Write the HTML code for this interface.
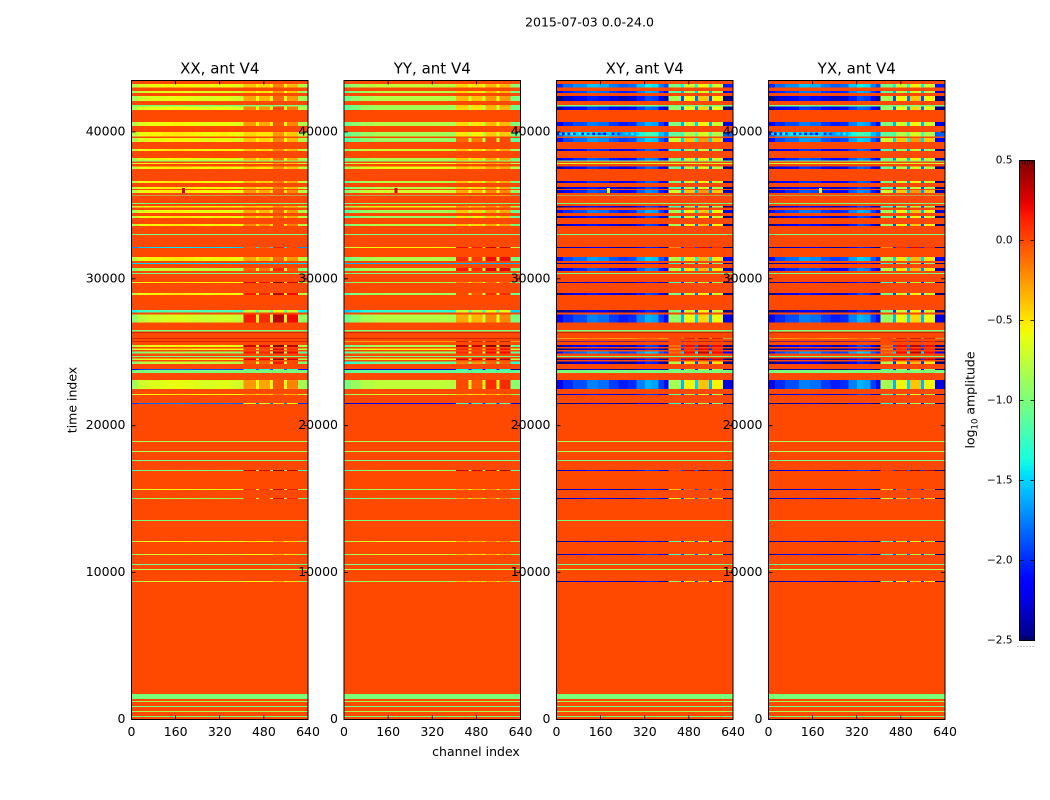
<!DOCTYPE html>
<html lang="en">
<head>
<meta charset="utf-8">
<title>2015-07-03 0.0-24.0</title>
<style>
  html, body { margin: 0; padding: 0; background: #ffffff; }
  #figure { display: block; width: 1050px; height: 800px; }
  text { font-family: "DejaVu Sans", "Liberation Sans", sans-serif; fill: #000000; }
</style>
</head>
<body>
<svg id="figure" xmlns="http://www.w3.org/2000/svg" width="1050" height="800" viewBox="0 0 1050 800">
  <rect x="0" y="0" width="1050" height="800" fill="#ffffff"/>
  <text x="589.5" y="26.5" font-size="12.5" text-anchor="middle">2015-07-03 0.0-24.0</text>
  <text x="476" y="756" font-size="12.5" text-anchor="middle">channel index</text>
  <text x="0" y="0" font-size="12.5" text-anchor="middle" transform="translate(76.5 400) rotate(-90)">time index</text>
  <text x="0" y="0" font-size="12.5" text-anchor="middle" transform="translate(974.5 400) rotate(-90)">log<tspan font-size="8.5" dy="3">10</tspan><tspan dy="-3"> amplitude</tspan></text>
  <g id="panels"></g>
  <g id="colorbar"></g>
</svg>
<script>
// Panel titles and tick labels
const panelTitles = ["XX, ant V4", "YY, ant V4", "XY, ant V4", "YX, ant V4"];
const xTicks = [0, 160, 320, 480, 640];
const yTicks = [0, 10000, 20000, 30000, 40000];
const colorbarTicks = [0.5, 0, -0.5, -1, -1.5, -2, -2.5];

// Channel columns and which level each column reads (0 = main, 1 = rfi)
const channelEdges = [0, 24, 60, 110, 150, 190, 225, 260, 290, 320, 345, 370, 390, 407, 452, 462, 503, 513, 553, 564, 604, 640];
const columnKind = [0, 0, 0, 0, 0, 0, 0, 0, 0, 0, 0, 0, 0, 1, 0, 1, 0, 1, 0, 1, 0];

// Per-column amplitude offset for each polarisation
const xxProfile = [-.2, -.05, 0, .03, .05, .03, 0, -.02, 0, .02, 0, -.03, -.05, -.05, .05, -.1, .05, .15, .05, 0, -.2];
const yyProfile = [-.25, -.15, -.05, 0, 0, 0, 0, 0, 0, 0, 0, -.02, -.02, 0, .1, -.05, .1, .1, .15, .1, -.2];
const xyProfile = [-.3, -.1, 0, .15, .1, -.05, -.15, -.1, .15, .3, .25, -.05, -.2, -.3, .3, 0, .4, .15, .3, 0, -.35];
const yxProfile = [-.3, -.1, 0, .15, .1, -.05, -.15, -.1, .15, .3, .25, -.05, -.2, -.3, .3, 0, .4, .15, .3, 0, -.35];

// Time ranges of the bands that differ from the background
const bandStart = [
  43030, 42650, 42100, 41740, 41490, 40400, 39700, 39310, 38700, 38040,
  38000, 37810, 37490, 36520, 36110, 35840, 35660, 35090, 34870, 34480,
  34140, 33590, 32980, 32100, 31210, 31010, 30530, 30330, 29710, 28900,
  27690, 27010, 26420, 26310, 25920, 25720, 25360, 25150, 24900, 24680,
  24470, 24200, 23790, 23590, 22500, 22090, 21480, 18890, 18210, 17600,
  16920, 15620, 15010, 13510, 12080, 11200, 10520, 10180, 9360, 1400,
  1190, 850, 510, 170];
const bandEnd = [
  43260, 42780, 42440, 41830, 41740, 40670, 40010, 39580, 38830, 38220,
  38040, 37880, 37630, 36660, 36250, 36040, 35720, 35160, 34950, 34680,
  34270, 33730, 33050, 32160, 31500, 31080, 30730, 30410, 29780, 29030,
  27880, 27560, 26530, 26360, 25970, 25780, 25490, 25240, 25060, 24740,
  24560, 24360, 23860, 23790, 23110, 22160, 21550, 18960, 18280, 17670,
  16980, 15690, 15080, 13580, 12150, 11270, 10590, 10250, 9430, 1740,
  1260, 920, 580, 240];

// log10 amplitude per band: main channels and RFI channels
const xxMain = [
  -.6, -.65, -.65, -1, -.6, -.6, -.55, -.6, -.55, -.6,
  -1, -.55, -.55, -.55, -.55, -.55, -1, -1, -.55, -.6,
  -.55, -.55, -1, -1.5, -.55, -1.5, -.75, -1, -.55, -.55,
  -1.2, -.7, -1, .4, .4, .4, -.6, -.55, -.9, -1,
  -.6, -.75, -1.9, -1, -.65, -.55, -1.8, -.8, -.8, -1,
  -1, -.6, -.85, -1, -.6, -.7, -1, -.8, -.7, -1,
  -.85, -1, -.85, -1];
const xxRfi = [
  -.35, -.4, -.25, -1, -.15, -.2, -.4, -.35, -.35, -.3,
  -1, -.4, -.4, -.3, -.35, -.2, -1, -1, -.4, -.25,
  -.3, -.15, -1, 0, -.25, -1.5, -.05, -1, .3, .2,
  -.7, .2, -1, .4, .4, .4, .35, .1, .2, -1,
  .3, 0, -1.2, -1, -.2, -.3, -.6, -.8, -.8, -1,
  .35, .15, .1, -1, -.45, -.5, -1, -.8, -.5, -1,
  -.85, -1, -.85, -1];
const yyMain = [
  -.75, -.8, -.8, -.85, -.85, -.8, -.85, -.9, -.7, -.8,
  -1, -.6, -.6, -.8, -.8, -.7, -1, -1, -.6, -.85,
  -.9, -.8, -1, -.55, -.8, -1.6, -.8, -1, -.8, -.85,
  -1.3, -.8, -1, .4, .4, -.55, -.85, -.55, -.9, -1,
  -.6, -1.1, -2.2, -1.1, -.75, -.7, -2.1, -.8, -.8, -1,
  -.9, -.8, -.95, -1, -.6, -.7, -1, -.8, -.8, -1,
  -.85, -1, -.85, -1];
const yyRfi = [
  -.45, -.45, -.35, -.4, -.45, -.45, -.5, -.1, -.4, -.4,
  -1, -.4, -.4, -.4, -.4, -.3, -.7, -1, -.3, -.4,
  -.5, -.4, -1, .2, .1, -1.6, .15, -1, -.2, 0,
  -.7, -.3, -1, .4, .4, .4, .35, .1, .1, -1,
  .3, -.2, -1.4, -1.1, 0, -.4, -1.2, -.8, -.8, -1,
  .3, -.3, -.3, -1, -.3, -.4, -1, -.8, -.4, -1,
  -.85, -1, -.85, -1];
const xyMain = [
  -1.7, -1.9, -2.2, -1, -2.1, -1.9, -1.5, -1.8, -2.1, -2,
  -1, -.7, -2.1, -2.1, -2.2, -2, -1, -1, -2.2, -1.9,
  -2.2, -2.2, -1, -2.3, -1.8, -2.3, -2, -1, -2.3, -2.2,
  -2.3, -1.9, -1, .45, -.55, -2.3, -2.2, -2.3, -1.8, -1,
  -2.3, -2.3, -2.4, -1, -1.9, -2.2, -2.4, -.8, -.8, -1,
  -2.2, -2.3, -2.2, -1, -2.3, -2.2, -1, -.8, -2.3, -1,
  -.85, -1, -.85, -1];
const xyRfi = [
  -.7, -.8, -.55, -1, -.6, -.7, -.8, -.4, -.9, -.7,
  -1, -.7, -.8, -.7, -.85, -.4, -1, -1, -.9, -.55,
  -.7, -.55, -1, .1, -.5, -1, -.5, -1, -.9, -.7,
  -.7, -.6, -1, .45, .35, .3, .2, .1, .2, -1,
  .3, -.5, -.9, -1, -.55, -.8, -1, -.8, -.8, -1,
  .35, -.1, -.4, -1, -.8, -.9, -1, -.8, -.6, -1,
  -.85, -1, -.85, -1];
const yxMain = [
  -1.7, -1.9, -2.2, -1, -2.1, -1.9, -1.5, -1.8, -2.1, -2,
  -1, -.7, -2.1, -2.1, -2.2, -2, -1, -1, -2.2, -1.9,
  -2.2, -2.2, -1, -2.3, -1.8, -2.3, -2, -1, -2.3, -2.2,
  -2.3, -1.9, -1, .45, -.55, -2.3, -2.2, -2.3, -1.8, -1,
  -2.3, -2.3, -2.4, -1, -1.9, -2.2, -2.4, -.8, -.8, -1,
  -2.2, -2.3, -2.2, -1, -2.3, -2.2, -1, -.8, -2.3, -1,
  -.85, -1, -.85, -1];
const yxRfi = [
  -.7, -.8, -.55, -1, -.6, -.7, -.8, -.4, -.9, -.7,
  -1, -.7, -.8, -.7, -.85, -.4, -1, -1, -.9, -.55,
  -.7, -.55, -1, .1, -.5, -1, -.5, -1, -.9, -.7,
  -.7, -.6, -1, .45, .35, .3, .2, .1, .2, -1,
  .3, -.5, -.9, -1, -.55, -.8, -1, -.8, -.8, -1,
  .35, -.1, -.4, -1, -.8, -.9, -1, -.8, -.6, -1,
  -.85, -1, -.85, -1];

// Narrow interference spike seen in every polarisation
const spikeChannels = [184, 194];
const spikeTimes = [35840, 36180];
const spikeValues = [.3, .3, -.7, -.7];

// Rapid channel-to-channel ripple near t = 40000 in the cross-polar panels
const rippleTimes = [39780, 39960];
const rippleChannelEnd = 300;
const rippleValues = [
  -2.2, -1.5, -2.1, -1.4, -2.0, -1.3, -1.9, -1.5, -1.4, -2.0,
  -1.4, -1.9, -1.5, -2.1, -1.6, -2.0, -1.7, -2.1, -1.6, -1.5,
  -2.0, -1.6, -1.9, -1.7, -1.6, -1.5, -1.7, -1.4, -1.6, -1.5];

// Amplitude of the quiet background and the colour scale limits
const backgroundValue = 0;
const colorMin = -2.5;
const colorMax = 0.5;
const channelMax = 640;
const timeMax = 43500;

const NS = "http://www.w3.org/2000/svg";
const panelLefts = [131.5, 344, 556.5, 768.5];
const panelWidth = 176.5;
const plotTop = 80.5;
const plotBottom = 719.5;

const panelMain = [xxMain, yyMain, xyMain, yxMain];
const panelRfi = [xxRfi, yyRfi, xyRfi, yxRfi];
const panelProfile = [xxProfile, yyProfile, xyProfile, yxProfile];

function xScale(panel, channel) {
  return panelLefts[panel] + channel / channelMax * panelWidth;
}
function yScale(time) {
  return plotBottom - time / timeMax * (plotBottom - plotTop);
}
function interp(points, t) {
  for (let i = 1; i < points.length; i++) {
    if (t <= points[i][0]) {
      const a = points[i - 1];
      const b = points[i];
      return a[1] + (b[1] - a[1]) * (t - a[0]) / (b[0] - a[0]);
    }
  }
  return points[points.length - 1][1];
}
const jetRed = [[0, 0], [.35, 0], [.66, 1], [.89, 1], [1, .5]];
const jetGreen = [[0, 0], [.125, 0], [.375, 1], [.64, 1], [.91, 0], [1, 0]];
const jetBlue = [[0, .5], [.11, 1], [.34, 1], [.65, 0], [1, 0]];
function jet(value) {
  const t = Math.max(0, Math.min(1, (value - colorMin) / (colorMax - colorMin)));
  const r = Math.round(255 * interp(jetRed, t));
  const g = Math.round(255 * interp(jetGreen, t));
  const b = Math.round(255 * interp(jetBlue, t));
  return "rgb(" + r + "," + g + "," + b + ")";
}
function shape(tag, attrs, parent) {
  const el = document.createElementNS(NS, tag);
  for (const key in attrs) el.setAttribute(key, attrs[key]);
  parent.appendChild(el);
  return el;
}
function formatTick(v) {
  return (v < 0 ? "\u2212" : "") + Math.abs(v).toFixed(1);
}

const panelsRoot = document.getElementById("panels");
panelTitles.forEach(function (title, p) {
  const left = panelLefts[p];
  const right = left + panelWidth;
  const g = shape("g", {}, panelsRoot);
  
  

  const bg = shape("rect", { x: left, y: plotTop, width: panelWidth, height: plotBottom - plotTop, fill: jet(backgroundValue), "shape-rendering": "crispEdges" }, g);
  
  

  bandStart.forEach(function (start, i) {
    const yTop = yScale(bandEnd[i]);
    const yBot = yScale(start);
    const main = panelMain[p][i];
    const rfi = panelRfi[p][i];
    if (main === rfi) {
      const flat = shape("rect", { x: left, y: yTop, width: panelWidth, height: yBot - yTop, fill: jet(main), "shape-rendering": "crispEdges" }, g);
      
      
      return;
    }
    columnKind.forEach(function (kind, c) {
      const level = (kind === 1 ? rfi : main) + panelProfile[p][c];
      const x0 = xScale(p, channelEdges[c]);
      const x1 = xScale(p, channelEdges[c + 1]);
      const cell = shape("rect", { x: x0, y: yTop, width: x1 - x0, height: yBot - yTop, fill: jet(level), "shape-rendering": "crispEdges" }, g);
      
      
    });
  });

  if (p >= 2) {
    rippleValues.forEach(function (value, r) {
      const x0 = xScale(p, r / rippleValues.length * rippleChannelEnd);
      const x1 = xScale(p, (r + 1) / rippleValues.length * rippleChannelEnd);
      const ry0 = yScale(rippleTimes[1]);
      const ry1 = yScale(rippleTimes[0]);
      const ripple = shape("rect", { x: x0, y: ry0, width: x1 - x0, height: ry1 - ry0, fill: jet(value) }, g);
      
      
    });
  }

  const sx0 = xScale(p, spikeChannels[0]);
  const sx1 = xScale(p, spikeChannels[1]);
  const sy0 = yScale(spikeTimes[1]);
  const sy1 = yScale(spikeTimes[0]);
  const spike = shape("rect", { x: sx0, y: sy0, width: sx1 - sx0, height: sy1 - sy0, fill: jet(spikeValues[p]), "shape-rendering": "crispEdges" }, g);
  
  

  xTicks.forEach(function (tick) {
    const x = xScale(p, tick);
    const tb = shape("path", { d: "M" + x + " " + plotBottom + "V" + (plotBottom - 4) + "M" + x + " " + plotTop + "V" + (plotTop + 4), stroke: "#000", "stroke-width": 0.8, fill: "none" }, g);
    
    
    const lab = shape("text", { x: x, y: 736, "font-size": 12.5, "text-anchor": "middle" }, g);
    lab.textContent = String(tick);
    
    
  });

  yTicks.forEach(function (tick) {
    const y = yScale(tick);
    const tl = shape("path", { d: "M" + left + " " + y + "H" + (left + 4) + "M" + right + " " + y + "H" + (right - 4), stroke: "#000", "stroke-width": 0.8, fill: "none" }, g);
    
    
    const lab = shape("text", { x: left - 6, y: y + 3.5, "font-size": 12.5, "text-anchor": "end" }, g);
    lab.textContent = String(tick);
    
    
  });

  const frame = shape("rect", { x: left, y: plotTop, width: panelWidth, height: plotBottom - plotTop, fill: "none", stroke: "#000", "stroke-width": 1 }, g);
  
  

  const t = shape("text", { x: left + panelWidth / 2, y: 73.5, "font-size": 15, "text-anchor": "middle" }, g);
  t.textContent = title;
  
  
});

// Colour bar
const cbRoot = document.getElementById("colorbar");
const cbLeft = 1019.5;
const cbWidth = 15;
const cbTop = 160.5;
const cbBottom = 640.5;
function cbScale(v) {
  return cbBottom - (v - colorMin) / (colorMax - colorMin) * (cbBottom - cbTop);
}
const defs = shape("defs", {}, cbRoot);
const grad = shape("linearGradient", { id: "jet-gradient", x1: 0, y1: 1, x2: 0, y2: 0 }, defs);
for (let i = 0; i <= 60; i++) {
  const frac = i / 60;
  shape("stop", { offset: frac, "stop-color": jet(colorMin + frac * (colorMax - colorMin)) }, grad);
}
const cbRect = shape("rect", { x: cbLeft, y: cbTop, width: cbWidth, height: cbBottom - cbTop, fill: "url(#jet-gradient)", stroke: "#000", "stroke-width": 1 }, cbRoot);



colorbarTicks.forEach(function (tick) {
  const y = cbScale(tick);
  const ct = shape("path", { d: "M" + cbLeft + " " + y + "H" + (cbLeft + 4) + "M" + (cbLeft + cbWidth) + " " + y + "H" + (cbLeft + cbWidth - 4), stroke: "#000", "stroke-width": 0.8, fill: "none" }, cbRoot);
  
  
  const lab = shape("text", { x: 1012.5, y: y + 3, "font-size": 10.5, "text-anchor": "end" }, cbRoot);
  lab.textContent = formatTick(tick);
  
  
});

[cbTop, cbBottom - 4].forEach(function (edgeY) {
  for (let k = 0; k < 5; k++) {
    const x = cbLeft + 3 + k * 2.4;
    const minor = shape("path", { d: "M" + x + " " + edgeY + "v4", stroke: "#000", "stroke-width": 0.6, fill: "none" }, cbRoot);
    
    
  }
});

const dots = shape("path", { d: "M1017.5 646.5H1034.5", stroke: "#888", "stroke-width": 1, "stroke-dasharray": "1 2", fill: "none" }, cbRoot);


</script>
</body>
</html>
